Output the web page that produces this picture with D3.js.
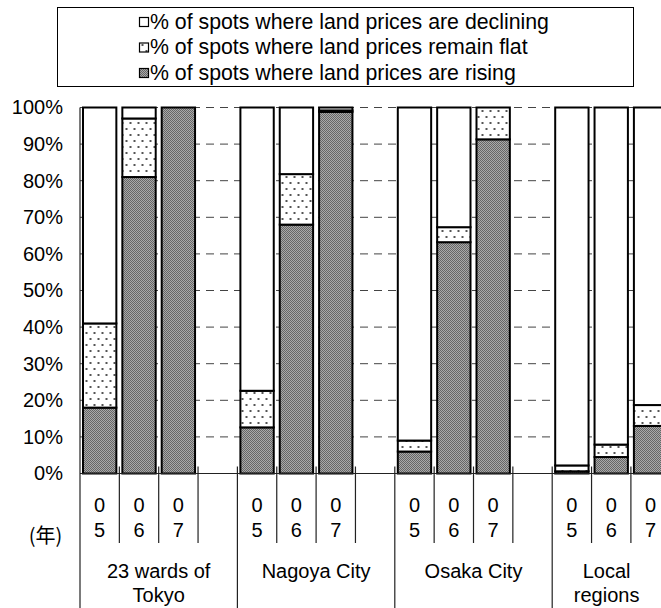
<!DOCTYPE html>
<html>
<head>
<meta charset="utf-8">
<script src="https://cdnjs.cloudflare.com/ajax/libs/d3/7.8.5/d3.min.js"></script>
<style>
  body { margin: 0; background: #fff; }
  svg { display: block; font-family: "Liberation Sans", Arial, sans-serif; }
</style>
</head>
<body>
<div id="chart"></div>
<script>
// data
const regions = [["23 wards of", "Tokyo"], ["Nagoya City"], ["Osaka City"], ["Local", "regions"]];
const years = ["05", "06", "07"];
const rising    = [18, 81, 100,   12.6, 68, 98.8,   6, 63.2, 91.3,   0.6, 4.5, 13];
const flat      = [23, 16, 0,     10, 13.8, 0.4,    3, 4.1, 8.7,     1.6, 3.4, 5.7];
const declining = [59, 3, 0,      77.4, 18.2, 0.8,  91, 32.7, 0,     97.8, 92.1, 81.3];
const yTicks = [0, 10, 20, 30, 40, 50, 60, 70, 80, 90, 100];
const legendLabels = [
  "% of spots where land prices are declining",
  "% of spots where land prices remain flat",
  "% of spots where land prices are rising"
];
const yearUnit = "(年)";

const width = 661, height = 608;
const margin = {left: 80, top: 107.5, bottom: 473.5};
const slotW = 39.35;

const svg = d3.select("#chart").append("svg")
  .attr("width", width).attr("height", height);

// patterns
const defs = svg.append("defs");
const pRise = defs.append("pattern").attr("id", "p-rise")
  .attr("width", 2).attr("height", 2).attr("patternUnits", "userSpaceOnUse");
pRise.append("rect").attr("width", 2).attr("height", 2).attr("fill", "#a9a9a9");
pRise.append("rect").attr("width", 1).attr("height", 1).attr("fill", "#666");
pRise.append("rect").attr("x", 1).attr("y", 1).attr("width", 1).attr("height", 1).attr("fill", "#666");

const pFlat = defs.append("pattern").attr("id", "p-flat")
  .attr("width", 8).attr("height", 12).attr("patternUnits", "userSpaceOnUse");
pFlat.append("rect").attr("width", 8).attr("height", 12).attr("fill", "#fff");
pFlat.append("rect").attr("x", 1.5).attr("y", 2).attr("width", 2).attr("height", 2).attr("fill", "#555");
pFlat.append("rect").attr("x", 5.5).attr("y", 8).attr("width", 2).attr("height", 2).attr("fill", "#555");

const fills = {rising: "url(#p-rise)", flat: "url(#p-flat)", declining: "#fff"};

// rows + slots
const rows = [];
const slots = [];
regions.forEach((r, i) => {
  years.forEach((yr, j) => {
    const k = i * 3 + j;
    rows.push({slot: i + "-" + yr, region: i, year: yr,
      rising: rising[k], flat: flat[k], declining: declining[k]});
    slots.push(i + "-" + yr);
  });
  slots.push(i + "-gap");
});

const x = d3.scaleBand().domain(slots)
  .range([margin.left, margin.left + slots.length * slotW]);
const y = d3.scaleLinear().domain([0, 100]).range([margin.bottom, margin.top]);

// gridlines
svg.append("g")
  .selectAll("line")
  .data(yTicks.filter(d => d > 0))
  .join("line")
  .attr("x1", margin.left).attr("x2", width)
  .attr("y1", d => y(d)).attr("y2", d => y(d))
  .attr("stroke", "#444").attr("stroke-width", 1)
  .attr("stroke-dasharray", "8,6");

// bars
const series = d3.stack().keys(["rising", "flat", "declining"])(rows);
svg.append("g")
  .selectAll("g")
  .data(series)
  .join("g")
  .attr("fill", s => fills[s.key])
  .selectAll("rect")
  .data(s => s)
  .join("rect")
  .attr("x", d => x(d.data.slot) + 3)
  .attr("width", x.bandwidth() - 6)
  .attr("y", d => y(d[1]))
  .attr("height", d => y(d[0]) - y(d[1]))
  .attr("stroke", "#000").attr("stroke-width", 2);

// y axis
const yAxis = svg.append("g")
  .attr("transform", `translate(${margin.left},0)`)
  .call(d3.axisLeft(y).tickValues(yTicks).tickFormat(d => d + "%").tickSize(0).tickPadding(17));
yAxis.select(".domain").remove();
yAxis.selectAll("text")
  .attr("font-size", 20).attr("fill", "#000")
  .attr("font-family", '"Liberation Sans", Arial, sans-serif');

// axis lines / category table
const table = svg.append("g").attr("stroke", "#222").attr("stroke-width", 1.2);
table.append("line")
  .attr("x1", margin.left).attr("x2", margin.left)
  .attr("y1", margin.top).attr("y2", height);
table.append("line")
  .attr("x1", margin.left).attr("x2", width)
  .attr("y1", margin.bottom).attr("y2", margin.bottom);
table.selectAll(".sep")
  .data(slots.slice(1))
  .join("line")
  .attr("x1", d => x(d)).attr("x2", d => x(d))
  .attr("y1", margin.bottom - 7)
  .attr("y2", d => d.endsWith("-05") ? height : 543);

// year labels (stacked digits)
const yl = svg.append("g").attr("font-size", 20).attr("text-anchor", "middle");
rows.forEach(r => {
  const cx = x(r.slot) + x.bandwidth() / 2;
  yl.append("text").attr("x", cx).attr("y", 511.5).text(r.year[0]);
  yl.append("text").attr("x", cx).attr("y", 536.5).text(r.year[1]);
});

svg.append("text")
  .attr("x", 45.5).attr("y", 542.5)
  .attr("text-anchor", "middle")
  .attr("font-size", 20)
  .attr("font-family", '"Noto Sans CJK JP", sans-serif')
  .text(yearUnit);

// region labels
const rl = svg.append("g").attr("font-size", 20).attr("text-anchor", "middle");
regions.forEach((lines, i) => {
  const x0 = x(i + "-05");
  const x1 = Math.min(x(i + "-gap") + x.bandwidth(), width);
  lines.forEach((t, j) => {
    rl.append("text").attr("x", (x0 + x1) / 2).attr("y", 578 + j * 24).text(t);
  });
});

// legend
const lg = svg.append("g");
lg.append("rect")
  .attr("x", 57.5).attr("y", 7.5).attr("width", 576).attr("height", 79)
  .attr("fill", "#fff").attr("stroke", "#000").attr("stroke-width", 1);
const legendFills = [fills.declining, fills.flat, fills.rising];
legendLabels.forEach((t, i) => {
  const by = 28.5 + i * 25.5;
  lg.append("rect")
    .attr("x", 139.5).attr("y", by - 11).attr("width", 9).attr("height", 9)
    .attr("fill", legendFills[i]).attr("stroke", "#000").attr("stroke-width", 1.2);
  lg.append("text").attr("x", 150).attr("y", by)
    .attr("font-size", 21.3).text(t);
});
</script>
</body>
</html>
